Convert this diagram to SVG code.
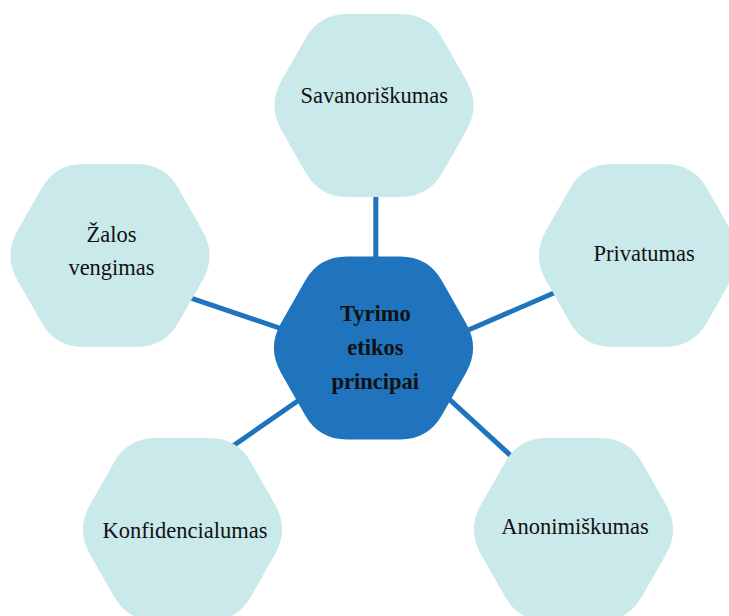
<svg xmlns="http://www.w3.org/2000/svg" xmlns:xlink="http://www.w3.org/1999/xlink" width="729" height="616" viewBox="0 0 729 616">
  <defs>
    <!-- rounded hexagon, centred on 0,0 -->
    <path id="hex" d="M-92.7,-24.4 L-68.5,-67.1 Q-54.7,-91.5 -26.7,-91.5 L26.7,-91.5 Q54.7,-91.5 68.5,-67.1 L92.7,-24.4 Q106.5,0 92.7,24.4 L68.5,67.1 Q54.7,91.5 26.7,91.5 L-26.7,91.5 Q-54.7,91.5 -68.5,67.1 L-92.7,24.4 Q-106.5,0 -92.7,-24.4Z"/>
    <style>
      .link { stroke: #1F74BD; stroke-width: 5; fill: none; }
      .outer { fill: #C9E9EB; }
      .core { fill: #1F74BD; }
      .label { font-family: "Liberation Serif", "Times New Roman", serif; font-size: 22.5px; fill: #111111; text-anchor: middle; }
      .bold { font-weight: bold; }
    </style>
  </defs>

  <rect width="729" height="616" fill="#FFFFFF"/>

  <g id="connectors">
    <line class="link" x1="375.8" y1="190" x2="375.8" y2="265"/>
    <line class="link" x1="182.2" y1="295.1" x2="289.5" y2="331.5"/>
    <line class="link" x1="459.1" y1="334.0" x2="562.5" y2="289.3"/>
    <line class="link" x1="304.9" y1="396.0" x2="228.5" y2="449.0"/>
    <line class="link" x1="442.6" y1="393.2" x2="517.4" y2="461.8"/>
  </g>

  <g id="node-savanoriskumas">
    <use xlink:href="#hex" class="outer" transform="translate(374,105.5)"/>
    <text class="label" x="374.3" y="103.3">Savanoriškumas</text>
  </g>

  <g id="node-zalos-vengimas">
    <use xlink:href="#hex" class="outer" transform="translate(110,255.5)"/>
    <text class="label" x="111.5" y="241.7">Žalos</text>
    <text class="label" x="111.5" y="275">vengimas</text>
  </g>

  <g id="node-privatumas">
    <use xlink:href="#hex" class="outer" transform="translate(638.5,255.5)"/>
    <text class="label" x="644.2" y="261">Privatumas</text>
  </g>

  <g id="node-konfidencialumas">
    <use xlink:href="#hex" class="outer" transform="translate(182.5,529.5)"/>
    <text class="label" x="185" y="537.7">Konfidencialumas</text>
  </g>

  <g id="node-anonimiskumas">
    <use xlink:href="#hex" class="outer" transform="translate(573.5,529.5)"/>
    <text class="label" x="575" y="534.3">Anonimiškumas</text>
  </g>

  <g id="node-tyrimo-etikos-principai">
    <use xlink:href="#hex" class="core" transform="translate(373.5,348)"/>
    <text class="label bold" x="375.3" y="320.7">Tyrimo</text>
    <text class="label bold" x="375.3" y="355">etikos</text>
    <text class="label bold" x="375.3" y="389.3">principai</text>
  </g>
</svg>
